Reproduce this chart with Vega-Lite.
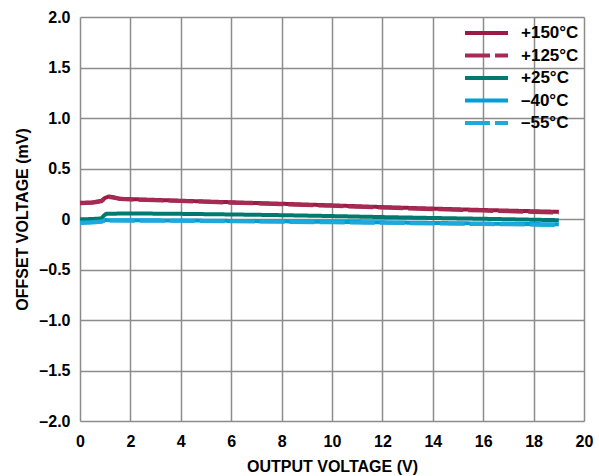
{
  "$schema": "https://vega.github.io/schema/vega-lite/v6.json",
  "width": 504,
  "height": 404,
  "autosize": "none",
  "padding": {"left": 80, "top": 17, "right": 15, "bottom": 55},
  "background": "white",
  "config": {
    "font": "Liberation Sans",
    "view": {"stroke": null},
    "axis": {
      "domain": false,
      "ticks": false,
      "grid": true,
      "gridColor": "#8c8c8c",
      "gridWidth": 1.5,
      "labelFont": "Liberation Sans",
      "labelFontSize": 16,
      "labelFontWeight": "bold",
      "labelColor": "#000000",
      "titleFont": "Liberation Sans",
      "titleFontSize": 16,
      "titleFontWeight": "bold",
      "titleColor": "#000000"
    },
    "legend": {
      "labelFont": "Liberation Sans",
      "labelFontSize": 17,
      "labelFontWeight": "bold",
      "labelColor": "#000000",
      "labelLimit": 200
    }
  },
  "datasets": {
    "curves": [
      {"vout": 0, "mv": 0.16, "series": "+150°C"},
      {"vout": 0.5, "mv": 0.165, "series": "+150°C"},
      {"vout": 0.85, "mv": 0.18, "series": "+150°C"},
      {"vout": 1.0, "mv": 0.21, "series": "+150°C"},
      {"vout": 1.15, "mv": 0.223, "series": "+150°C"},
      {"vout": 1.35, "mv": 0.215, "series": "+150°C"},
      {"vout": 1.6, "mv": 0.2, "series": "+150°C"},
      {"vout": 2, "mv": 0.197, "series": "+150°C"},
      {"vout": 4, "mv": 0.181, "series": "+150°C"},
      {"vout": 6, "mv": 0.166, "series": "+150°C"},
      {"vout": 8, "mv": 0.151, "series": "+150°C"},
      {"vout": 10, "mv": 0.135, "series": "+150°C"},
      {"vout": 12, "mv": 0.118, "series": "+150°C"},
      {"vout": 14, "mv": 0.103, "series": "+150°C"},
      {"vout": 16, "mv": 0.089, "series": "+150°C"},
      {"vout": 18, "mv": 0.077, "series": "+150°C"},
      {"vout": 19, "mv": 0.071, "series": "+150°C"},

      {"vout": 0, "mv": 0.155, "series": "+125°C"},
      {"vout": 0.5, "mv": 0.16, "series": "+125°C"},
      {"vout": 0.85, "mv": 0.175, "series": "+125°C"},
      {"vout": 1.0, "mv": 0.205, "series": "+125°C"},
      {"vout": 1.15, "mv": 0.218, "series": "+125°C"},
      {"vout": 1.35, "mv": 0.211, "series": "+125°C"},
      {"vout": 1.6, "mv": 0.197, "series": "+125°C"},
      {"vout": 2, "mv": 0.194, "series": "+125°C"},
      {"vout": 4, "mv": 0.178, "series": "+125°C"},
      {"vout": 6, "mv": 0.162, "series": "+125°C"},
      {"vout": 8, "mv": 0.147, "series": "+125°C"},
      {"vout": 10, "mv": 0.13, "series": "+125°C"},
      {"vout": 12, "mv": 0.113, "series": "+125°C"},
      {"vout": 14, "mv": 0.097, "series": "+125°C"},
      {"vout": 16, "mv": 0.083, "series": "+125°C"},
      {"vout": 18, "mv": 0.07, "series": "+125°C"},
      {"vout": 19, "mv": 0.064, "series": "+125°C"},

      {"vout": 0, "mv": -0.004, "series": "+25°C"},
      {"vout": 0.5, "mv": 0.0, "series": "+25°C"},
      {"vout": 0.85, "mv": 0.006, "series": "+25°C"},
      {"vout": 0.95, "mv": 0.035, "series": "+25°C"},
      {"vout": 1.05, "mv": 0.052, "series": "+25°C"},
      {"vout": 2, "mv": 0.055, "series": "+25°C"},
      {"vout": 4, "mv": 0.051, "series": "+25°C"},
      {"vout": 6, "mv": 0.045, "series": "+25°C"},
      {"vout": 8, "mv": 0.038, "series": "+25°C"},
      {"vout": 10, "mv": 0.029, "series": "+25°C"},
      {"vout": 12, "mv": 0.019, "series": "+25°C"},
      {"vout": 14, "mv": 0.01, "series": "+25°C"},
      {"vout": 16, "mv": 0.002, "series": "+25°C"},
      {"vout": 18, "mv": -0.007, "series": "+25°C"},
      {"vout": 19, "mv": -0.012, "series": "+25°C"},

      {"vout": 0, "mv": -0.035, "series": "–40°C"},
      {"vout": 0.5, "mv": -0.03, "series": "–40°C"},
      {"vout": 0.85, "mv": -0.023, "series": "–40°C"},
      {"vout": 1.0, "mv": -0.011, "series": "–40°C"},
      {"vout": 2, "mv": -0.013, "series": "–40°C"},
      {"vout": 4, "mv": -0.014, "series": "–40°C"},
      {"vout": 6, "mv": -0.019, "series": "–40°C"},
      {"vout": 8, "mv": -0.023, "series": "–40°C"},
      {"vout": 10, "mv": -0.028, "series": "–40°C"},
      {"vout": 12, "mv": -0.033, "series": "–40°C"},
      {"vout": 14, "mv": -0.039, "series": "–40°C"},
      {"vout": 16, "mv": -0.045, "series": "–40°C"},
      {"vout": 18, "mv": -0.05, "series": "–40°C"},
      {"vout": 19, "mv": -0.053, "series": "–40°C"},

      {"vout": 0, "mv": -0.039, "series": "–55°C"},
      {"vout": 0.5, "mv": -0.034, "series": "–55°C"},
      {"vout": 0.85, "mv": -0.027, "series": "–55°C"},
      {"vout": 1.0, "mv": -0.015, "series": "–55°C"},
      {"vout": 2, "mv": -0.017, "series": "–55°C"},
      {"vout": 4, "mv": -0.018, "series": "–55°C"},
      {"vout": 6, "mv": -0.023, "series": "–55°C"},
      {"vout": 8, "mv": -0.028, "series": "–55°C"},
      {"vout": 10, "mv": -0.033, "series": "–55°C"},
      {"vout": 12, "mv": -0.038, "series": "–55°C"},
      {"vout": 14, "mv": -0.044, "series": "–55°C"},
      {"vout": 16, "mv": -0.05, "series": "–55°C"},
      {"vout": 18, "mv": -0.056, "series": "–55°C"},
      {"vout": 19, "mv": -0.059, "series": "–55°C"}
    ]
  },
  "layer": [
    {
      "data": {"name": "curves"},
      "mark": {"type": "line", "strokeWidth": 4, "strokeCap": "butt", "strokeJoin": "round"},
      "encoding": {
        "x": {
          "field": "vout",
          "type": "quantitative",
          "scale": {"domain": [0, 20], "nice": false, "zero": false},
          "axis": {
            "values": [0, 2, 4, 6, 8, 10, 12, 14, 16, 18, 20],
            "title": "OUTPUT VOLTAGE (V)",
            "labelPadding": 12,
            "titlePadding": 9,
            "labelFlush": false
          }
        },
        "y": {
          "field": "mv",
          "type": "quantitative",
          "scale": {"domain": [-2, 2], "nice": false, "zero": false},
          "axis": {
            "values": [-2, -1.5, -1, -0.5, 0, 0.5, 1, 1.5, 2],
            "title": "OFFSET VOLTAGE (mV)",
            "labelPadding": 10,
            "titlePadding": 8,
            "labelFlush": false,
            "labelExpr": "datum.value == 0 ? '0' : (datum.value < 0 ? '–' + format(-datum.value, '.1f') : format(datum.value, '.1f'))"
          }
        },
        "color": {
          "field": "series",
          "type": "nominal",
          "sort": ["+150°C", "+125°C", "+25°C", "–40°C", "–55°C"],
          "scale": {
            "domain": ["+150°C", "+125°C", "+25°C", "–40°C", "–55°C"],
            "range": ["#9b1b44", "#a62b53", "#007a70", "#009fd6", "#1ea8dc"]
          },
          "legend": {
            "title": null,
            "orient": "none",
            "legendX": 383,
            "legendY": 7.5,
            "padding": 0,
            "symbolType": "stroke",
            "symbolSize": 1849,
            "symbolStrokeWidth": 4,
            "clipHeight": 17,
            "rowPadding": 4.5,
            "labelOffset": 11,
            "labelFont": "Liberation Sans",
            "labelFontSize": 17,
            "labelFontWeight": "bold",
            "labelColor": "#000000",
            "labelLimit": 200
          }
        },
        "strokeDash": {
          "field": "series",
          "type": "nominal",
          "sort": ["+150°C", "+125°C", "+25°C", "–40°C", "–55°C"],
          "scale": {
            "domain": ["+150°C", "+125°C", "+25°C", "–40°C", "–55°C"],
            "range": [[1, 0], [25, 5], [1, 0], [1, 0], [25, 5]]
          },
          "legend": {
            "title": null,
            "orient": "none",
            "legendX": 383,
            "legendY": 7.5,
            "padding": 0,
            "symbolType": "stroke",
            "symbolSize": 1849,
            "symbolStrokeWidth": 4,
            "clipHeight": 17,
            "rowPadding": 4.5,
            "labelOffset": 11,
            "labelFont": "Liberation Sans",
            "labelFontSize": 17,
            "labelFontWeight": "bold",
            "labelColor": "#000000",
            "labelLimit": 200
          }
        }
      }
    },
    {
      "mark": {"type": "rect", "fill": "white"},
      "encoding": {
        "x": {"datum": 0},
        "x2": {"datum": 3.57},
        "y": {"datum": 2},
        "y2": {"datum": 1.45}
      }
    },
    {
      "mark": {"type": "rect", "fill": "white"},
      "encoding": {
        "x": {"datum": 14.76},
        "x2": {"datum": 19.84},
        "y": {"datum": 1.955},
        "y2": {"datum": 0.835}
      }
    },
    {
      "mark": {"type": "text", "text": "I", "align": "left", "baseline": "alphabetic", "fontSize": 16, "fontWeight": "bold", "color": "#000000"},
      "encoding": {"x": {"datum": 0.476}, "y": {"datum": 1.767}}
    },
    {
      "mark": {"type": "text", "text": "L", "align": "left", "baseline": "alphabetic", "fontSize": 11, "fontWeight": "bold", "color": "#000000"},
      "encoding": {"x": {"datum": 0.754}, "y": {"datum": 1.737}}
    },
    {
      "mark": {"type": "text", "text": "= 1mA", "align": "left", "baseline": "alphabetic", "fontSize": 16, "fontWeight": "bold", "color": "#000000"},
      "encoding": {"x": {"datum": 1.19}, "y": {"datum": 1.767}}
    },
    {
      "mark": {"type": "text", "text": "V", "align": "left", "baseline": "alphabetic", "fontSize": 16, "fontWeight": "bold", "color": "#000000"},
      "encoding": {"x": {"datum": 0.476}, "y": {"datum": 1.549}}
    },
    {
      "mark": {"type": "text", "text": "IN", "align": "left", "baseline": "alphabetic", "fontSize": 11, "fontWeight": "bold", "color": "#000000"},
      "encoding": {"x": {"datum": 0.913}, "y": {"datum": 1.509}}
    },
    {
      "mark": {"type": "text", "text": "= 20V", "align": "left", "baseline": "alphabetic", "fontSize": 16, "fontWeight": "bold", "color": "#000000"},
      "encoding": {"x": {"datum": 1.587}, "y": {"datum": 1.549}}
    },
    {
      "mark": {"type": "rect", "filled": false, "stroke": "#000000", "strokeWidth": 2},
      "encoding": {
        "x": {"datum": 0},
        "x2": {"datum": 20},
        "y": {"datum": -2},
        "y2": {"datum": 2}
      }
    }
  ]
}
